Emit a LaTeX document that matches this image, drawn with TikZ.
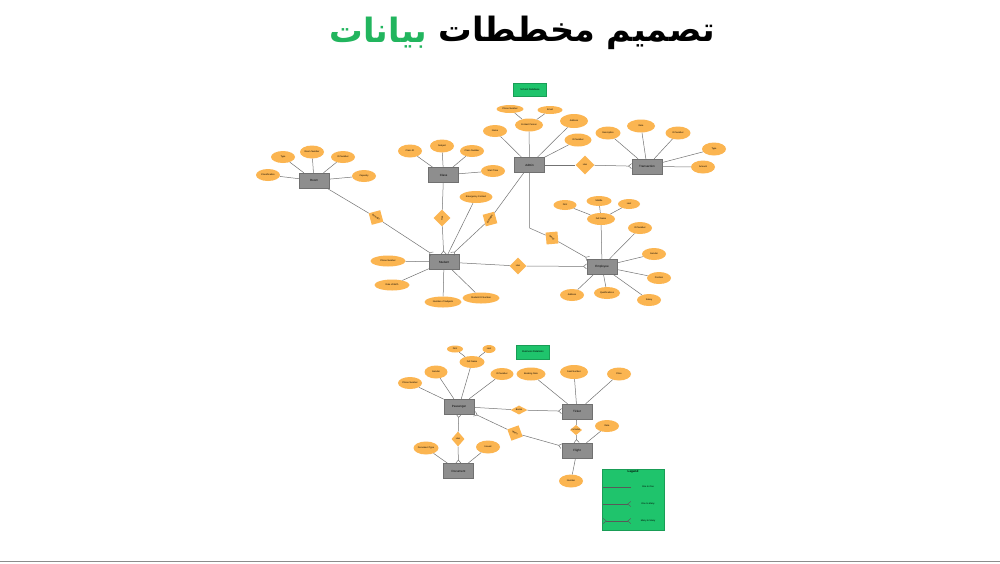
\documentclass[tikz,border=0pt]{standalone}
\usepackage{fontspec}
\setmainfont{Liberation Sans}
\newfontfamily\arabicfont[Script=Arabic]{DejaVu Sans}
\TeXXeTstate=1
\usetikzlibrary{shapes.geometric,arrows.meta}
\definecolor{attrc}{HTML}{FBB551}
\definecolor{entc}{HTML}{8E8E8E}
\definecolor{entd}{HTML}{707070}
\definecolor{lblg}{HTML}{1FC46C}
\definecolor{titleg}{HTML}{22B55E}
\definecolor{linec}{HTML}{737373}
\tikzset{
 attr/.style={ellipse, fill=attrc, draw=none, inner sep=0pt, minimum width=24pt, minimum height=12pt, font=\fontsize{2.3}{2.6}\selectfont},
 ent/.style={rectangle, fill=entc, draw=entd, line width=0.4pt, minimum width=30pt, minimum height=15pt, inner sep=0pt, font=\fontsize{3}{3.4}\selectfont},
 rel/.style={diamond, fill=attrc, draw=none, inner sep=0pt, minimum width=17pt, minimum height=17pt, font=\fontsize{2.3}{2.6}\selectfont},
 flatrel/.style={rel, minimum width=17pt, minimum height=9pt},
 lbl/.style={rectangle, fill=lblg, draw=lblg!80!black, line width=0.3pt, minimum width=33pt, minimum height=13pt, inner sep=0pt, font=\fontsize{2.5}{2.8}\selectfont},
 conn/.style={draw=linec, line width=0.5pt},
 cf/.style={conn, -{Straight Barb[reversed,length=3pt,width=5pt,line width=0.5pt]}},
 legline/.style={draw=black!65, line width=0.45pt},
 legtxt/.style={font=\fontsize{2.3}{2.6}\selectfont, inner sep=0pt},
 ttl/.style={inner sep=0pt, font=\arabicfont\bfseries\fontsize{33.5}{40}\selectfont},
}
\begin{document}
\begin{tikzpicture}[x=1pt,y=-1pt]
\useasboundingbox (0,0) rectangle (1000,563);
\fill[white] (0,0) rectangle (1000,563);
\draw[black!45, line width=0.8pt] (0,561.5) -- (1000,561.5);

% title
\node[ttl, anchor=east, text=black] (title1) at (715,33) {\beginR تصميم مخططات\endR};
\node[ttl, anchor=east, text=titleg] (title2) at ([xshift=-11pt]title1.west) {\beginR بيانات\endR};

% ===== upper diagram =====
\node[lbl] (lblA) at (530,89.5) {School Database};

\node[ent] (R) at (314,180.5) {Room};
\node[attr] (ra1) at (268,175) {Classification};
\node[attr] (ra2) at (283,157) {Type};
\node[attr, minimum height=13pt] (ra3) at (312,152) {Room Number};
\node[attr] (ra4) at (343,157) {ID Number};
\node[attr] (ra5) at (364,176) {Capacity};

\node[ent] (C) at (443.5,175) {Class};
\node[attr, minimum height=13pt] (ca1) at (410,151) {Class ID};
\node[attr, minimum height=13pt] (ca2) at (442,146) {Subject};
\node[attr] (ca3) at (472,151) {Class Number};
\node[attr] (ca4) at (493,171) {Start Time};

\node[ent] (A) at (529.5,165) {Admin};
\node[attr] (aa1) at (495,131) {Name};
\node[attr, minimum width=28pt, minimum height=13pt] (aa2) at (529,125) {Contact Person};
\node[attr, minimum width=27pt, minimum height=8pt] (aa2a) at (510,109) {Phone Number};
\node[attr, minimum width=25pt, minimum height=8pt] (aa2b) at (550,110) {Email};
\node[attr, minimum width=28pt, minimum height=14pt] (aa3) at (574,121) {Address};
\node[attr, minimum width=27pt, minimum height=13pt] (aa4) at (578,140) {ID Number};

\node[rel, minimum width=19pt, minimum height=19pt] (d1) at (585,165) {Has};

\node[ent] (T) at (647,166.5) {Transaction};
\node[attr, minimum width=25pt, minimum height=13pt] (ta1) at (608,133) {Description};
\node[attr, minimum width=28pt, minimum height=13pt] (ta2) at (641,126) {Date};
\node[attr, minimum width=25pt, minimum height=13pt] (ta3) at (678,133) {ID Number};
\node[attr, minimum width=24pt, minimum height=13pt] (ta4) at (714,149) {Type};
\node[attr, minimum width=24pt, minimum height=13pt] (ta5) at (703,167) {Amount};

\node[ent] (S) at (444,262) {Student};
\node[attr, minimum width=33pt] (sa1) at (476,197) {Emergency Contact};
\node[attr, minimum width=35pt, minimum height=11pt] (sa2) at (388,261) {Phone Number};
\node[attr, minimum width=35pt, minimum height=11pt] (sa3) at (392,285) {Date of Birth};
\node[attr, minimum width=37pt, minimum height=11pt] (sa4) at (443,302) {Number of Subjects};
\node[attr, minimum width=37pt, minimum height=11pt] (sa5) at (481,298) {Student ID Number};

\node[rel, rotate=-30] (d2) at (376,217.5) {Belongs};
\node[rel, rotate=90] (d3) at (442,218) {Has};
\node[rel, rotate=60] (d4) at (490,219) {Manages};
\node[rel] (d5) at (518,266) {Has};
\node[rel, rotate=-40] (d6) at (552,238) {Works};
\coordinate (bend) at (529.5,228);

\node[ent] (E) at (602,266.5) {Employee};
\node[attr, minimum width=28pt] (ea1) at (601,219) {Full Name};
\node[attr, minimum width=23pt, minimum height=10pt] (ea1a) at (565,205) {First};
\node[attr, minimum width=25pt, minimum height=10pt] (ea1b) at (599,201) {Middle};
\node[attr, minimum width=22pt, minimum height=10pt] (ea1c) at (629,204) {Last};
\node[attr] (ea2) at (640,228) {ID Number};
\node[attr] (ea3) at (654,254) {Gender};
\node[attr] (ea4) at (659,278) {Position};
\node[attr] (ea5) at (649,300) {Salary};
\node[attr, minimum width=26pt] (ea6) at (607,293) {Qualifications};
\node[attr] (ea7) at (572,295) {Address};

% attribute links (upper)
\foreach \a in {ra1,ra2,ra3,ra4,ra5} \draw[conn] (\a) -- (R);
\foreach \a in {ca1,ca2,ca3,ca4} \draw[conn] (\a) -- (C);
\foreach \a in {aa1,aa2,aa3,aa4} \draw[conn] (\a) -- (A);
\draw[conn] (aa2a) -- (aa2);
\draw[conn] (aa2b) -- (aa2);
\foreach \a in {ta1,ta2,ta3,ta4,ta5} \draw[conn] (\a) -- (T);
\foreach \a in {sa1,sa2,sa3,sa4,sa5} \draw[conn] (\a) -- (S);
\foreach \a in {ea1,ea2,ea3,ea4,ea5,ea6,ea7} \draw[conn] (\a) -- (E);
\foreach \a in {ea1a,ea1b,ea1c} \draw[conn] (\a) -- (ea1);

% relationships (upper)
\draw[conn] (A) -- (d1);  \draw[cf] (d1) -- (T);
\draw[conn] (R) -- (d2);  \draw[cf] (d2) -- (S);
\draw[conn] (C) -- (d3);  \draw[cf] (d3) -- (S);
\draw[conn] (A) -- (d4);  \draw[cf] (d4) -- (S);
\draw[conn] (S) -- (d5);  \draw[cf] (d5) -- (E);
\draw[conn] (A) -- (bend) -- (d6);  \draw[cf] (d6) -- (E);

% ===== lower diagram =====
\node[lbl, minimum height=14pt] (lblB) at (533,352) {Business Relations};

\node[ent] (P) at (459,406.5) {Passenger};
\node[attr, minimum width=25pt] (pa1) at (472,362) {Full Name};
\node[attr, minimum width=16pt, minimum height=7pt] (pa1a) at (455,349) {First};
\node[attr, minimum width=13pt, minimum height=8pt] (pa1b) at (489,349) {Last};
\node[attr, minimum width=23pt, minimum height=13pt] (pa2) at (436,372) {Gender};
\node[attr] (pa3) at (410,383) {Phone Number};
\node[attr, minimum width=23pt] (pa4) at (502,374) {ID Number};

\node[flatrel] (b1) at (519,410) {Books};

\node[ent] (K) at (577,411.5) {Ticket};
\node[attr, minimum width=29pt, minimum height=13pt] (ka1) at (531,374) {Booking Date};
\node[attr, minimum width=28pt, minimum height=14pt] (ka2) at (574,372) {Seat Number};
\node[attr, minimum width=24pt, minimum height=13pt] (ka3) at (619,374) {Price};

\node[flatrel, minimum width=12pt, minimum height=8pt] (b2) at (576,430) {Includes};

\node[ent] (F) at (577,450.5) {Flight};
\node[attr] (fa1) at (607,426) {Date};
\node[attr, minimum height=13pt] (fa2) at (571,481) {Number};

\node[rel, rotate=-25] (b3) at (515,433) {Takes};
\node[rel, minimum width=13pt, minimum height=15pt] (b4) at (458,439) {Has};

\node[ent] (D) at (458.5,471) {Document};
\node[attr, minimum width=25pt, minimum height=13pt] (da1) at (426,448) {Document Type};
\node[attr, minimum height=13pt] (da2) at (488,447) {Issued};

\foreach \a in {pa1,pa2,pa3,pa4} \draw[conn] (\a) -- (P);
\draw[conn] (pa1a) -- (pa1);
\draw[conn] (pa1b) -- (pa1);
\foreach \a in {ka1,ka2,ka3} \draw[conn] (\a) -- (K);
\foreach \a in {fa1,fa2} \draw[conn] (\a) -- (F);
\foreach \a in {da1,da2} \draw[conn] (\a) -- (D);

\draw[conn] (P) -- (b1);  \draw[cf] (b1) -- (K);
\draw[conn] (K) -- (b2);  \draw[cf] (b2) -- (F);
\draw[cf] (b3) -- (P);    \draw[cf] (b3) -- (F);
\draw[cf] (b4) -- (P);    \draw[cf] (b4) -- (D);

% ===== legend =====
\node[lbl, minimum width=62pt, minimum height=61pt] (leg) at (633,499.5) {};
\node[font=\fontsize{3}{3.5}\selectfont\bfseries, anchor=north, inner sep=0.8pt] (legt) at (leg.north) {Legend};
\coordinate (l1a) at (603,487); \coordinate (l1b) at (631,487);
\coordinate (l2a) at (603,504); \coordinate (l2b) at (631,504);
\coordinate (l3a) at (603,521); \coordinate (l3b) at (631,521);
\draw[legline] (l1a) -- (l1b);
\draw[legline, -{Straight Barb[reversed,length=3pt,width=5pt,line width=0.45pt]}] (l2a) -- (l2b);
\draw[legline, {Straight Barb[reversed,length=3pt,width=5pt,line width=0.45pt]}-{Straight Barb[reversed,length=3pt,width=5pt,line width=0.45pt]}] (l3a) -- (l3b);
\node[legtxt] (lt1) at (648,486.5) {One to One};
\node[legtxt] (lt2) at (648,503.5) {One to Many};
\node[legtxt] (lt3) at (648,520.5) {Many to Many};
\end{tikzpicture}
\end{document}
